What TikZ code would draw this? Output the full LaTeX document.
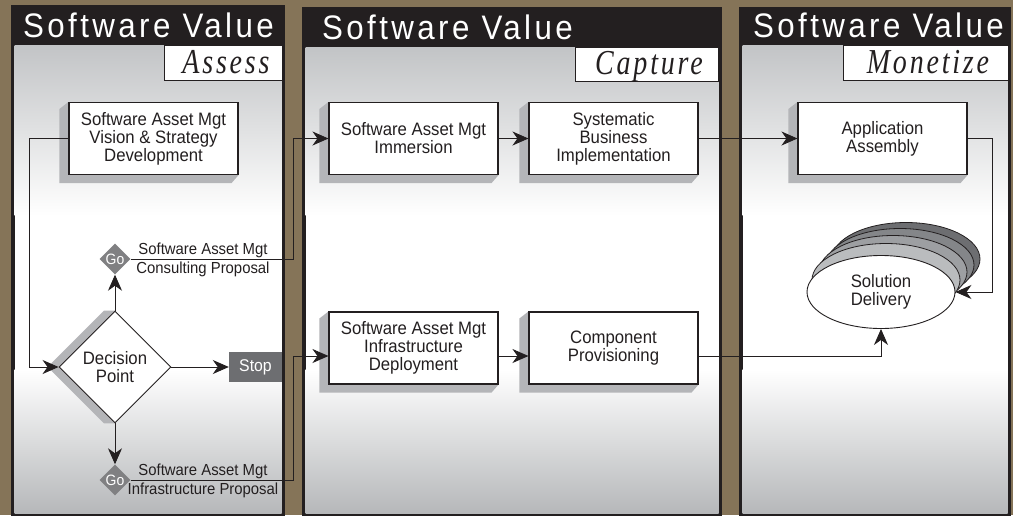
\documentclass[tikz,border=0pt]{standalone}
\usepackage{fontspec}
\setmainfont[FakeStretch=0.93]{Liberation Sans}
\newfontfamily\hdrfont[LetterSpace=10,FakeStretch=0.92]{Liberation Sans}
\newfontfamily\subfont[LetterSpace=8,FakeStretch=0.8]{Liberation Serif}
\usetikzlibrary{shapes.geometric,arrows.meta,calc}
\definecolor{bgbrown}{RGB}{133,116,88}
\definecolor{ink}{RGB}{35,31,32}
\definecolor{gtop}{RGB}{194,196,198}
\definecolor{gbot}{RGB}{182,184,186}
\definecolor{shadegray}{RGB}{180,181,184}
\definecolor{gogray}{RGB}{128,128,130}
\definecolor{stopgray}{RGB}{109,110,113}
\definecolor{lay1}{RGB}{186,188,190}
\definecolor{lay2}{RGB}{157,159,162}
\definecolor{lay3}{RGB}{132,134,137}
\definecolor{lay4}{RGB}{109,110,113}
\newcommand\bodyfont{\fontsize{18}{18}\selectfont}
\newcommand\smallbody{\fontsize{16}{19.5}\selectfont}
\newcommand\mypanel[4]{%
  \fill[ink] (#1,#2) rectangle (#3,516);
  \shade[top color=gtop,bottom color=white] (#1+3.5,#4) rectangle (#3-3.5,215.5);
  \fill[white] (#1+3.5,214.5) rectangle (#3-3.5,370.5);
  \shade[top color=white,bottom color=gbot] (#1+3.5,369.5) rectangle (#3-3.5,513);
}
\newcommand\boxshadow[1]{%
  \fill[shadegray] (#1.north west) -- ++(-9,7) -- ($(#1.south west)+(-9,8)$)
    -- ($(#1.south east)+(-7,8)$) -- (#1.south east) -- (#1.south west) -- cycle;
}
\pgfdeclarelayer{bg}
\pgfdeclarelayer{mid}
\pgfsetlayers{bg,mid,main}
\begin{document}
\begin{tikzpicture}[x=1pt,y=-1pt,
  box/.style={draw=ink,line width=1.1pt,fill=white,minimum width=169pt,
    minimum height=72pt,inner sep=0pt,align=center,font=\bodyfont,text=ink},
  hdr/.style={text=white,inner sep=0pt,font=\hdrfont\fontsize{34}{34}\selectfont},
  sub/.style={text=ink,inner sep=0pt,font=\subfont\itshape\fontsize{35}{35}\selectfont},
  godia/.style={diamond,fill=gogray,minimum width=31pt,minimum height=31pt,
    inner sep=0pt,text=white,font=\fontsize{15}{15}\selectfont},
  lbl/.style={text=ink,align=center,inner sep=0pt,font=\smallbody},
  arr/.style={draw=ink,line width=0.9pt,-{Stealth[length=16pt,width=14pt,inset=5pt]}},
  ln/.style={draw=ink,line width=0.9pt}]
\useasboundingbox (0,0) rectangle (1013,515);
\begin{pgfonlayer}{bg}
\fill[bgbrown] (0,0) rectangle (1013,515);
\mypanel{11}{5}{285}{45}
\mypanel{302}{7}{722}{47}
\mypanel{739}{7}{1011}{45}
\filldraw[fill=white,draw=ink,line width=1pt] (164,45) rectangle (282.5,80);
\filldraw[fill=white,draw=ink,line width=1pt] (575,47) rectangle (718.5,81);
\filldraw[fill=white,draw=ink,line width=1pt] (843,45) rectangle (1008.5,80);
\end{pgfonlayer}

% headers
\node[hdr,anchor=base west] (h1) at (23,37) {Software Value};
\node[hdr,anchor=base west] (h2) at (322,39) {Software Value};
\node[hdr,anchor=base west] (h3) at (753,37) {Software Value};
\node[sub,anchor=base] (s1) at (226,73) {Assess};
\node[sub,anchor=base] (s2) at (649,74) {Capture};
\node[sub,anchor=base] (s3) at (928,73) {Monetize};

% boxes
\node[box] (vis) at (153.5,138.5) {Software Asset Mgt\\Vision \& Strategy\\Development};
\node[box] (imm) at (413.5,138.5) {Software Asset Mgt\\Immersion};
\node[box] (sys) at (613.5,138.5) {Systematic\\Business\\Implementation};
\node[box] (inf) at (413.5,348) {Software Asset Mgt\\Infrastructure\\Deployment};
\node[box] (comp) at (613.5,348) {Component\\Provisioning};
\node[box] (app) at (882.5,138.5) {Application\\Assembly};

% decision
\node[diamond,draw=ink,line width=0.9pt,fill=white,minimum width=112pt,
  minimum height=112pt,inner sep=0pt,align=center,font=\bodyfont,text=ink]
  (dp) at (115,367) {Decision\\Point};
\node[godia] (go1) at (115,259) {\makebox[0pt]{Go}};
\node[godia] (go2) at (115,480) {\makebox[0pt]{Go}};
\node[fill=stopgray,minimum width=53pt,minimum height=30pt,inner sep=0pt,
  text=white,font=\fontsize{17}{17}\selectfont] (stop) at (255.5,367) {Stop};
\node[lbl] (l1) at (203,260) {Software Asset Mgt\\Consulting Proposal};
\node[lbl] (l2) at (203,481) {Software Asset Mgt\\Infrastructure Proposal};

% solution delivery
\node[ellipse,draw=ink,line width=0.9pt,fill=white,minimum width=148pt,
  minimum height=73pt,inner sep=0pt,align=center,font=\bodyfont,text=ink]
  (sol) at (881,292) {Solution\\Delivery};

\begin{pgfonlayer}{mid}
\boxshadow{vis}
\boxshadow{imm}
\boxshadow{sys}
\boxshadow{inf}
\boxshadow{comp}
\boxshadow{app}
\fill[shadegray] (dp.north) -- ++(-11,0) -- ($(dp.west)+(-11,0)$)
  -- ($(dp.south)+(-11,0)$) -- (dp.south) -- cycle;
\filldraw[fill=lay4,draw=ink,line width=0.8pt] ($(sol.center)+(25,-33)$) ellipse [x radius=74pt,y radius=36.5pt];
\filldraw[fill=lay3,draw=ink,line width=0.8pt] ($(sol.center)+(19,-27)$) ellipse [x radius=74pt,y radius=36.5pt];
\filldraw[fill=lay2,draw=ink,line width=0.8pt] ($(sol.center)+(12,-20)$) ellipse [x radius=74pt,y radius=36.5pt];
\filldraw[fill=lay1,draw=ink,line width=0.8pt] ($(sol.center)+(5,-12)$) ellipse [x radius=74pt,y radius=36.5pt];
\end{pgfonlayer}

% connectors
\coordinate (cx1) at (29,0);
\coordinate (cx2) at (293,0);
\coordinate (cx3) at (992,0);
\coordinate (infIn) at ($(inf.west)+(0,8)$);
\coordinate (infOut) at ($(inf.east)+(0,8)$);
\coordinate (compIn) at ($(comp.west)+(0,8)$);
\coordinate (compOut) at ($(comp.east)+(0,8)$);

\draw[arr] (vis.west) -- (vis.west -| cx1) |- (dp.west);
\draw[arr] (dp.north) -- (go1.south);
\draw[arr] (dp.east) -- (stop.west);
\draw[arr] (dp.south) -- (go2.north);
\draw[arr] (go1.east) -- (go1.east -| cx2) |- (imm.west);
\draw[arr] (go2.east) -- (go2.east -| cx2) |- (infIn);
\draw[arr] (imm.east) -- (sys.west);
\draw[arr] (sys.east) -- (app.west);
\draw[arr] (infOut) -- (compIn);
\draw[arr] (compOut) -| (sol.south);
\draw[arr] (app.east) -- (app.east -| cx3) |- (sol.east);
\end{tikzpicture}
\end{document}
